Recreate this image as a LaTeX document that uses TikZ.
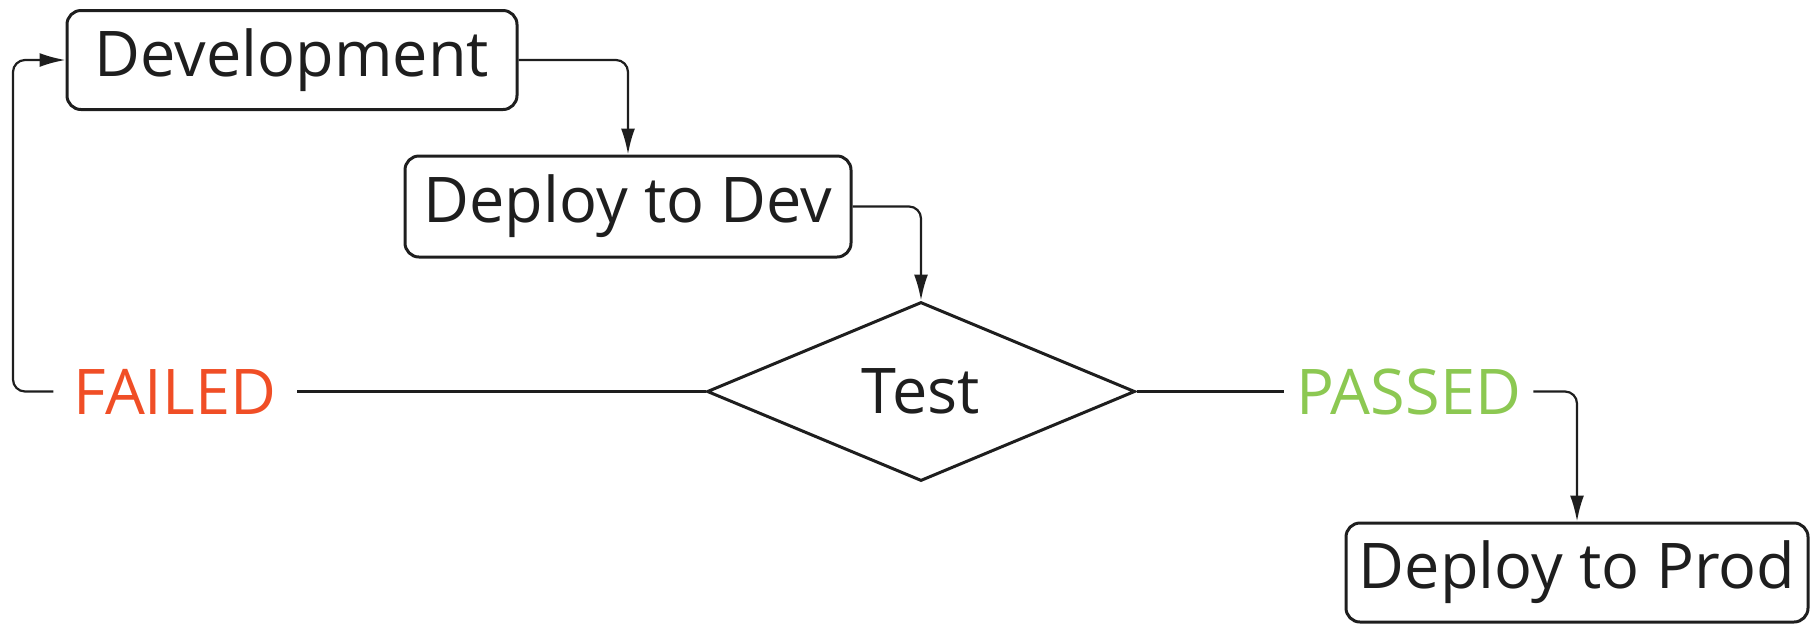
\documentclass[tikz,border=0pt]{standalone}
\usepackage{fontspec}
\setmainfont{Open Sans}
\usetikzlibrary{shapes.geometric,arrows.meta}
\definecolor{failc}{RGB}{240,78,38}
\definecolor{passc}{RGB}{140,200,82}
\definecolor{ink}{RGB}{30,30,30}
\tikzset{
  box/.style={draw=ink, line width=1.5pt, rounded corners=7pt, inner sep=0pt, minimum height=49.5pt, text=ink},
  dia/.style={draw=ink, line width=1.5pt, diamond, inner sep=0pt, minimum width=214pt, minimum height=89.5pt, text=ink},
  lbl/.style={inner ysep=0pt, inner xsep=9pt},
  conn/.style={draw=ink, line width=1.1pt, rounded corners=6pt},
  arr/.style={conn, -{Latex[length=13pt,width=7pt]}}
}
\begin{document}
\begin{tikzpicture}[font=\fontsize{31.5}{38}\selectfont]
\useasboundingbox (0,0) rectangle (905pt,-311.5pt);
\node[box, minimum width=225pt] (dev) at (146pt,-30pt) {Development};
\node[box, minimum width=223pt, minimum height=50.5pt] (ddev) at (314pt,-103.25pt) {Deploy to Dev};
\node[dia] (test) at (460.5pt,-195.75pt) {Test};
\node[box, minimum width=231pt] (prod) at (788.5pt,-286.25pt) {Deploy to Prod};
\node[lbl, text=failc, inner xsep=10pt] (failed) at (87.5pt,-195.75pt) {FAILED};
\node[lbl, text=passc, inner xsep=6pt] (passed) at (704.25pt,-195.75pt) {PASSED};
\coordinate (lx) at (6.5pt,0);
\draw[arr] (dev.east) -| (ddev.north);
\draw[arr] (ddev.east) -| (test.north);
\draw[conn] (test.west) -- (failed.east);
\draw[conn] (test.east) -- (passed.west);
\draw[arr] (passed.east) -| (prod.north);
\draw[arr] (failed.west) -- (failed.west -| lx) |- (dev.west);
\end{tikzpicture}
\end{document}
